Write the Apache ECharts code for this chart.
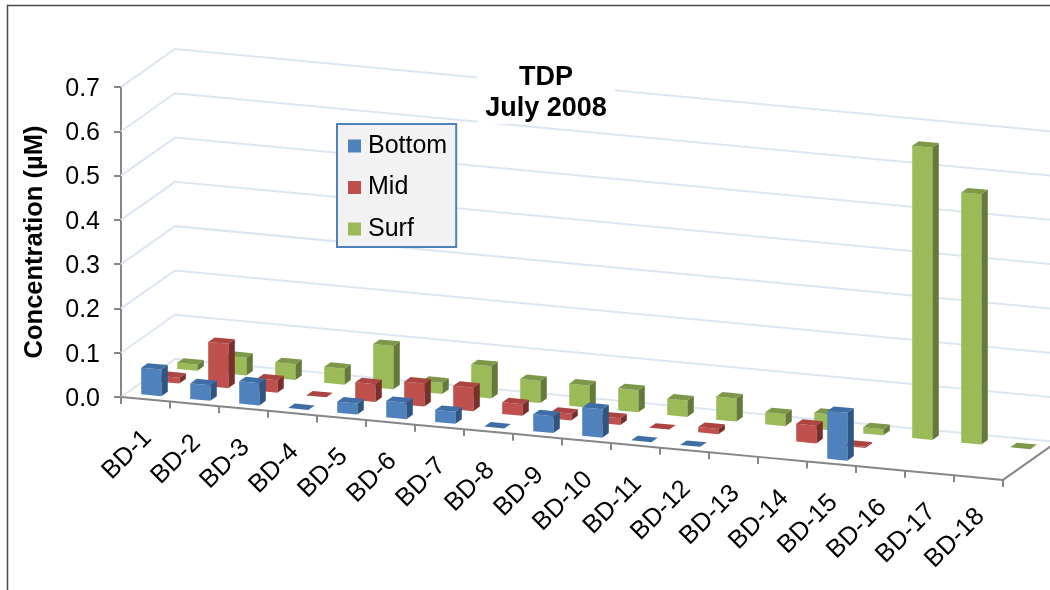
<!DOCTYPE html>
<html>
<head>
<meta charset="utf-8">
<style>html,body{margin:0;padding:0;background:#fff}#c{width:1050px;height:590px}</style>
<script src="https://cdn.jsdelivr.net/npm/echarts@6/dist/echarts.min.js"></script>
</head>
<body>
<div id="c"></div>
<script>
const categories = ['BD-1','BD-2','BD-3','BD-4','BD-5','BD-6','BD-7','BD-8','BD-9','BD-10','BD-11','BD-12','BD-13','BD-14','BD-15','BD-16','BD-17','BD-18'];
const bottomValues = [0.06,0.035,0.05,0,0.025,0.037,0.027,0,0.038,0.064,0,0,null,null,0.108,null,null,null];
const midValues = [0.013,0.10,0.028,0,0.04,0.052,0.053,0.026,0.015,0.015,0,0.012,null,0.04,0.003,null,null,null];
const surfValues = [0.014,0.04,0.036,0.036,0.098,0.025,0.073,0.05,0.05,0.05,0.037,0.052,0.027,0.036,0.014,0.66,0.565,0];
const yTicks = [0,0.1,0.2,0.3,0.4,0.5,0.6,0.7];

const SLOPE = 0.094, DX = 54, DY = -38, BARW = 0.41, HALF_T = 0.06;
const GRID_LEFT = 121;
const font = 'Liberation Sans, Arial, sans-serif';

function proj(api, xPx, val, t) {
  const yPx = api.coord([0, val])[1];
  return [xPx + DX * t, yPx + (xPx - GRID_LEFT) * SLOPE + DY * t];
}

function barSeries(name, values, t, colors) {
  return {
    type: 'custom', name, clip: false, silent: true,
    itemStyle: { color: colors.front },
    encode: { x: 0, y: 1 },
    data: categories.map((c, i) => [i, values[i]]).filter(d => d[1] !== null),
    renderItem(params, api) {
      const cx = api.coord([api.value(0), 0])[0];
      const band = api.size([1, 0])[0];
      const w = band * BARW;
      const v = api.value(1);
      const l = cx - w / 2, r = cx + w / 2;
      const t0 = t - HALF_T, t1 = t + HALF_T;
      const kids = [];
      const poly = (pts, fill) => kids.push({ type: 'polygon', shape: { points: pts }, style: { fill } });
      if (v > 0) {
        poly([proj(api, r, 0, t0), proj(api, r, 0, t1), proj(api, r, v, t1), proj(api, r, v, t0)], colors.side);
        poly([proj(api, l, 0, t0), proj(api, r, 0, t0), proj(api, r, v, t0), proj(api, l, v, t0)], colors.front);
      }
      poly([proj(api, l, v, t0), proj(api, r, v, t0), proj(api, r, v, t1), proj(api, l, v, t1)], colors.top);
      return { type: 'group', children: kids };
    }
  };
}

const gridSeries = {
  type: 'custom', name: 'walls', clip: false, silent: true,
  encode: { x: 0, y: 1 },
  data: yTicks.map(v => [0, v]),
  renderItem(params, api) {
    const v = api.value(1);
    const band = api.size([1, 0])[0];
    const xl = api.coord([0, 0])[0] - band / 2;
    const xr = api.coord([categories.length - 1, 0])[0] + band / 2;
    return {
      type: 'polyline',
      shape: { points: [proj(api, xl, v, 0), proj(api, xl, v, 1), proj(api, xr, v, 1)] },
      style: { stroke: '#dce6f2', lineWidth: 2, fill: null }
    };
  }
};

const axisSeries = {
  type: 'custom', name: 'frontAxis', clip: false, silent: true,
  encode: { x: 0, y: 1 },
  data: categories.map((c, i) => [i, 0]),
  renderItem(params, api) {
    const i = api.value(0);
    const band = api.size([1, 0])[0];
    const cx = api.coord([i, 0])[0];
    const l = cx - band / 2, r = cx + band / 2;
    const a = proj(api, l, 0, 0), b = proj(api, r, 0, 0);
    const s = { stroke: '#868686', lineWidth: 2 };
    const kids = [
      { type: 'line', shape: { x1: a[0], y1: a[1], x2: b[0], y2: b[1] }, style: s },
      { type: 'line', shape: { x1: a[0], y1: a[1], x2: a[0], y2: a[1] + 7 }, style: s }
    ];
    if (i === categories.length - 1) {
      const e = proj(api, r, 0, 1);
      kids.push({ type: 'line', shape: { x1: b[0], y1: b[1], x2: b[0], y2: b[1] + 7 }, style: s });
      kids.push({ type: 'line', shape: { x1: b[0], y1: b[1], x2: e[0], y2: e[1] }, style: s });
    }
    const c = proj(api, cx, 0, 0);
    kids.push({
      type: 'text', x: c[0] + 2, y: c[1] + 35, rotation: Math.PI / 4,
      style: { text: categories[i], fill: '#000', font: '25.5px ' + font, align: 'right', verticalAlign: 'middle' }
    });
    return { type: 'group', children: kids };
  }
};

const chart = echarts.init(document.getElementById('c'), null, { renderer: 'canvas' });
chart.setOption({
  animation: false,
  backgroundColor: '#fff',
  title: {
    text: 'TDP\nJuly 2008', left: 538, top: 62, textAlign: 'center', padding: [0, 8],
    backgroundColor: '#fff', z: 5,
    textStyle: { fontFamily: font, fontSize: 27, fontWeight: 'bold', color: '#000', lineHeight: 31, align: 'center' }
  },
  legend: {
    data: ['Bottom', 'Mid', 'Surf'], orient: 'vertical', left: 337, top: 124,
    padding: [9.5, 9, 5.5, 11], itemWidth: 13, itemHeight: 13, itemGap: 16.5,
    backgroundColor: '#f2f2f2', borderColor: '#4f81bd', borderWidth: 2, borderRadius: 0,
    icon: 'rect', selectedMode: false, z: 6,
    textStyle: { fontFamily: font, fontSize: 25, color: '#000', lineHeight: 25, padding: [0, 0, 0, 2] }
  },
  grid: { left: GRID_LEFT, right: 47, top: 87, bottom: 193 },
  xAxis: {
    type: 'category', data: categories,
    axisLine: { show: false }, axisTick: { show: false }, axisLabel: { show: false }, splitLine: { show: false }
  },
  yAxis: {
    type: 'value', min: 0, max: 0.7, interval: 0.1,
    name: 'Concentration (µM)', nameLocation: 'middle', nameRotate: 90, nameGap: 73,
    nameTextStyle: { fontFamily: font, fontSize: 25.5, fontWeight: 'bold', color: '#000' },
    axisLine: { show: true, lineStyle: { color: '#868686', width: 2 } },
    axisTick: { show: true, length: 7, lineStyle: { color: '#868686', width: 2 } },
    axisLabel: { fontFamily: font, fontSize: 25, color: '#000', margin: 21, verticalAlign: 'top', lineHeight: 4, formatter: v => v.toFixed(1) },
    splitLine: { show: false }
  },
  graphic: [
    { type: 'polyline', silent: true, shape: { points: [[7.5, 590], [7.5, 5.5], [1050, 5.5]] }, style: { stroke: '#4a4a4a', lineWidth: 1.5, fill: null } }
  ],
  series: [
    gridSeries,
    barSeries('Surf', surfValues, 5 / 6, { front: '#9bbb59', side: '#657a3a', top: '#7d9848' }),
    barSeries('Mid', midValues, 3 / 6, { front: '#c0504d', side: '#7b2f2d', top: '#ac4542' }),
    barSeries('Bottom', bottomValues, 1 / 6, { front: '#4f81bd', side: '#2f5582', top: '#3f6ea6' }),
    axisSeries
  ]
});
</script>
</body>
</html>
